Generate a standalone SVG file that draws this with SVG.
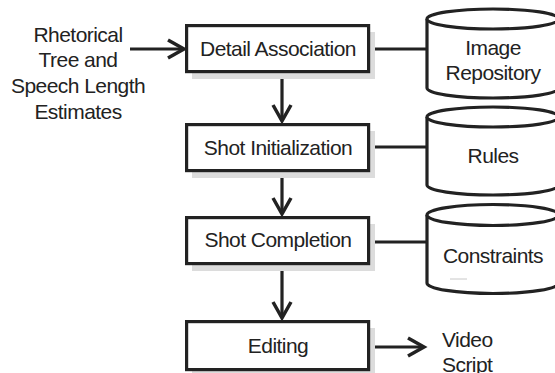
<svg xmlns="http://www.w3.org/2000/svg" width="555" height="373" viewBox="0 0 555 373">
  <style>
    text { font-family: "Liberation Sans", Arial, Helvetica, sans-serif; font-size: 21px; fill: #222; text-anchor: middle; letter-spacing: -0.55px; }
    .box { fill: #fff; stroke: #222; stroke-width: 3.2; }
    .shadow { fill: #dcdcdc; stroke: none; }
    .cyl { fill: #fff; stroke: #222; stroke-width: 3.2; }
    .conn { fill: none; stroke: #222; stroke-width: 3.2; }
    .left { text-anchor: start; }
  </style>
  <defs>
    <marker id="arrow" viewBox="0 0 20 20" markerWidth="20" markerHeight="20" refX="17" refY="10" orient="auto" markerUnits="userSpaceOnUse" overflow="visible">
      <path d="M1,1 L17,10 L1,19" fill="none" stroke="#222" stroke-width="3.5" stroke-linejoin="miter"/>
    </marker>
  </defs>
  <rect width="555" height="373" fill="#fff"/>

  <g id="input-label">
    <text x="78" y="42">Rhetorical</text>
    <text x="78" y="67">Tree and</text>
    <text x="78" y="93">Speech Length</text>
    <text x="78" y="119">Estimates</text>
  </g>

  <g id="connectors">
    <line class="conn" x1="130" y1="49" x2="184" y2="49" marker-end="url(#arrow)"/>
    <line class="conn" x1="282" y1="72" x2="282" y2="121" marker-end="url(#arrow)"/>
    <line class="conn" x1="282" y1="172" x2="282" y2="214" marker-end="url(#arrow)"/>
    <line class="conn" x1="282" y1="265" x2="282" y2="318" marker-end="url(#arrow)"/>
    <line class="conn" x1="370" y1="347" x2="424" y2="347" marker-end="url(#arrow)"/>
    <line class="conn" x1="369" y1="49" x2="428" y2="49"/>
    <line class="conn" x1="369" y1="147" x2="428" y2="147"/>
    <line class="conn" x1="369" y1="242" x2="428" y2="242"/>
  </g>

  <g id="detail-association">
    <rect class="shadow" x="192" y="32" width="183" height="47"/>
    <rect class="box" x="186.6" y="25.6" width="182" height="46"/>
    <text x="278" y="56">Detail Association</text>
  </g>

  <g id="shot-initialization">
    <rect class="shadow" x="192" y="131" width="183" height="47"/>
    <rect class="box" x="186.6" y="124.6" width="182" height="46"/>
    <text x="278" y="155">Shot Initialization</text>
  </g>

  <g id="shot-completion">
    <rect class="shadow" x="192" y="224" width="183" height="47"/>
    <rect class="box" x="186.6" y="217.6" width="182" height="46"/>
    <text x="278" y="247">Shot Completion</text>
  </g>

  <g id="editing">
    <rect class="shadow" x="192" y="328" width="183" height="47"/>
    <rect class="box" x="186.6" y="321.6" width="182" height="48"/>
    <text x="278" y="353">Editing</text>
  </g>

  <g id="video-script">
    <text class="left" x="442" y="347">Video</text>
    <text class="left" x="442" y="372">Script</text>
  </g>

  <g id="image-repository">
    <path class="cyl" d="M427,19 L427,88 A66,10 0 0 0 559,88 L559,19 A66,10 0 0 0 427,19 Z"/>
    <path class="cyl" d="M427,19 A66,10 0 0 0 559,19" fill="none"/>
    <text x="493" y="55">Image</text>
    <text x="493" y="80">Repository</text>
  </g>

  <g id="rules">
    <path class="cyl" d="M427,117 L427,185 A66,10 0 0 0 559,185 L559,117 A66,10 0 0 0 427,117 Z"/>
    <path class="cyl" d="M427,117 A66,10 0 0 0 559,117" fill="none"/>
    <text x="493" y="163">Rules</text>
  </g>

  <g id="constraints">
    <path class="cyl" d="M427,215 L427,283 A66,10.5 0 0 0 559,283 L559,215 A66,10.5 0 0 0 427,215 Z"/>
    <path class="cyl" d="M427,215 A66,10.5 0 0 0 559,215" fill="none"/>
    <text x="493" y="263">Constraints</text>
    <line x1="450" y1="279" x2="467" y2="279" stroke="#c8c8c8" stroke-width="1"/>
  </g>
</svg>
